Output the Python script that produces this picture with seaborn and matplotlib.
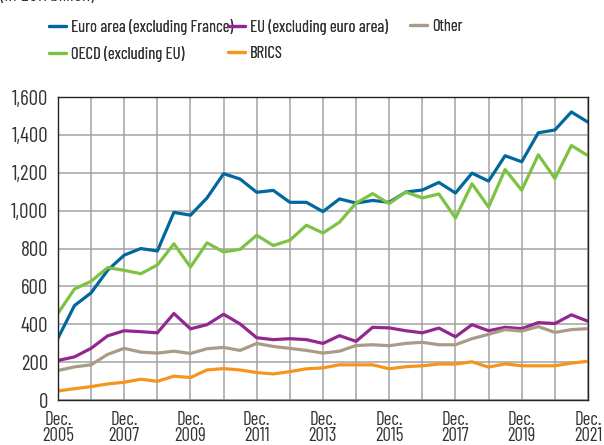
import numpy as np
import pandas as pd
import matplotlib
matplotlib.use("Agg")
import matplotlib.pyplot as plt
import matplotlib.dates as mdates
from matplotlib.ticker import FixedLocator
import seaborn as sns

# semi-annual observations, Dec. 2005 -> Dec. 2021
dates = pd.date_range("2005-12-01", "2021-12-01", freq="6MS")

euro_area = [327, 499, 566, 685, 765, 800, 787, 991, 976, 1067, 1195, 1167, 1097, 1107, 1044,
             1044, 995, 1062, 1040, 1054, 1044, 1098, 1109, 1149, 1093, 1198, 1156, 1290,
             1258, 1411, 1426, 1521, 1467]
eu_ex_euro = [209, 228, 273, 339, 366, 361, 355, 457, 376, 398, 453, 402, 329, 319, 324,
              319, 299, 340, 310, 384, 381, 366, 355, 380, 334, 398, 366, 384,
              377, 409, 404, 450, 416]
other = [156, 175, 186, 241, 273, 253, 248, 258, 246, 271, 278, 262, 299, 283, 273,
         262, 248, 258, 288, 292, 287, 299, 305, 292, 292, 324, 347, 372,
         364, 388, 357, 372, 377]
oecd_ex_eu = [458, 586, 627, 699, 685, 667, 713, 825, 702, 830, 782, 796, 870, 816, 844,
              923, 882, 939, 1040, 1090, 1037, 1098, 1067, 1088, 961, 1142, 1019, 1217,
              1108, 1295, 1170, 1344, 1290]
brics = [48, 60, 71, 85, 94, 110, 99, 126, 119, 159, 166, 159, 145, 138, 150,
         165, 170, 186, 186, 186, 165, 176, 181, 190, 190, 202, 174, 191,
         181, 181, 181, 195, 205]

series_names = ["Euro area (excluding France)", "OECD (excluding EU)",
                "EU (excluding euro area)", "BRICS", "Other"]
series_values = [euro_area, oecd_ex_eu, eu_ex_euro, brics, other]
colors = ["#00689D", "#7DC242", "#93278F", "#F7941D", "#A99C86"]

df = pd.concat([pd.DataFrame({"date": dates, "value": v, "series": n})
                for n, v in zip(series_names, series_values)], ignore_index=True)

sns.set_style("white")
plt.rcParams["font.family"] = ["Barlow Condensed", "DejaVu Sans"]
txt_col = "#333333"

fig = plt.figure(figsize=(6.04, 4.45), dpi=100)
ax = fig.add_axes([0.096, 0.101, 0.8775, 0.681])

sns.lineplot(data=df, x="date", y="value", hue="series", hue_order=series_names,
             palette=colors, linewidth=2.3, ax=ax, legend=True)

ax.set_xlim(dates[0], dates[-1])
ax.set_ylim(0, 1600)
ax.set_yticks(range(0, 1601, 200))
ax.set_yticklabels([f"{v:,}" for v in range(0, 1601, 200)])

dec_all = [pd.Timestamp(f"{y}-12-01") for y in range(2005, 2022)]
dec_lab = [pd.Timestamp(f"{y}-12-01") for y in range(2005, 2022, 2)]
ax.xaxis.set_major_locator(FixedLocator(mdates.date2num(dec_lab)))
ax.xaxis.set_minor_locator(FixedLocator(mdates.date2num(dec_all)))
ax.set_xticklabels([f"Dec.\n{d.year}" for d in dec_lab], linespacing=0.85)

ax.grid(True, which="both", axis="x", color="#A3A3A3", linewidth=1.1)
ax.grid(True, which="major", axis="y", color="#A3A3A3", linewidth=1.1)
ax.set_axisbelow(True)
ax.tick_params(axis="both", which="both", length=0, labelsize=15, colors=txt_col)
ax.tick_params(axis="x", pad=8, labelsize=13.5)
ax.tick_params(axis="y", pad=7)
for s in ax.spines.values():
    s.set_color("#222222")
    s.set_linewidth(1.0)
ax.set_xlabel("")
ax.set_ylabel("")

# legend laid out in three columns at fixed x positions
handles, labels = ax.get_legend_handles_labels()
ax.get_legend().remove()
h = dict(zip(labels, handles))
columns = [(0.081, ["Euro area (excluding France)", "OECD (excluding EU)"]),
           (0.3775, ["EU (excluding euro area)", "BRICS"]),
           (0.679, ["Other"])]
for x0, names in columns:
    leg = fig.legend([h[n] for n in names], names, loc="upper left",
                     bbox_to_anchor=(x0, 0.957), frameon=False, fontsize=12,
                     handlelength=1.0, handletextpad=0.3, labelspacing=0.65,
                     borderaxespad=0, borderpad=0, labelcolor=txt_col)
    fig.add_artist(leg)

fig.text(0.0, 1.01, "(in EUR billion)", fontsize=14, va="center", ha="left", color=txt_col)

fig.savefig("out.png", dpi=100)
